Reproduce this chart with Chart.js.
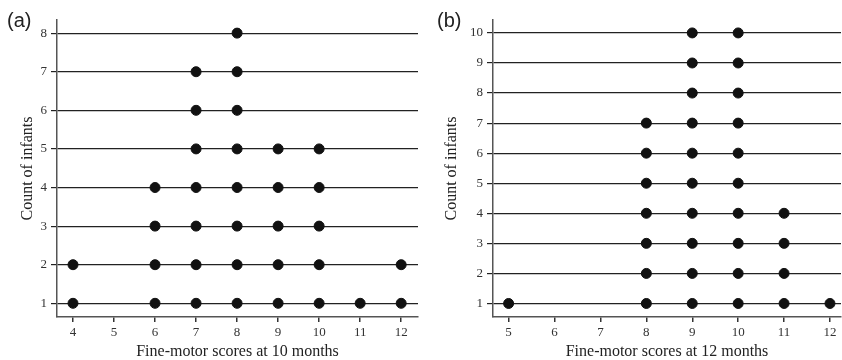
<!DOCTYPE html>
<html>
<head>
<meta charset="utf-8">
<script src="https://cdn.jsdelivr.net/npm/chart.js@4/dist/chart.umd.min.js"></script>
<style>
  body { margin: 0; background: #fff; }
  #wrap { position: relative; width: 842px; height: 360px; }
  .panel { position: absolute; top: 0; width: 421px; height: 360px; }
  .tag { position: absolute; font-family: "Liberation Sans", Arial, sans-serif; font-size: 20px; color: #222; }
</style>
</head>
<body>
<div id="wrap">
  <div class="panel" style="left:0"><canvas id="chartA" width="421" height="360"></canvas></div>
  <div class="panel" style="left:421px"><canvas id="chartB" width="421" height="360"></canvas></div>
  <div class="tag" style="left:7px;top:9px">(a)</div>
  <div class="tag" style="left:437px;top:9px">(b)</div>
</div>
<script>
// datos del panel (a): puntajes a los 10 meses
var scoresA = [4, 5, 6, 7, 8, 9, 10, 11, 12];
var countsA = [2, 0, 4, 7, 8, 5, 5, 1, 2];
var xTicksA = [4, 5, 6, 7, 8, 9, 10, 11, 12];
var yTicksA = [1, 2, 3, 4, 5, 6, 7, 8];

// datos del panel (b): puntajes a los 12 meses
var scoresB = [5, 6, 7, 8, 9, 10, 11, 12];
var countsB = [1, 0, 0, 7, 10, 10, 4, 1];
var xTicksB = [5, 6, 7, 8, 9, 10, 11, 12];
var yTicksB = [1, 2, 3, 4, 5, 6, 7, 8, 9, 10];

var serif = '"Liberation Serif", "Times New Roman", serif';

// un punto por cada infante, apilado segun el conteo
function buildDots(scores, counts) {
    var pts = [];
    scores.forEach(function (s, i) {
        for (var k = 1; k <= counts[i]; k++) {
            pts.push({ x: s, y: k });
        }
    });
    return pts;
}

function makeChart(id, scores, counts, xTicks, yTicks, cfg) {
    var ctx = document.getElementById(id).getContext('2d');
    return new Chart(ctx, {
        type: 'scatter',
        data: {
            datasets: [{
                data: buildDots(scores, counts),
                backgroundColor: '#111',
                borderColor: '#111',
                pointRadius: 5,
                pointHoverRadius: 5
            }]
        },
        options: {
            responsive: false,
            animation: false,
            layout: { autoPadding: false, padding: { top: 20, right: cfg.padRight, left: 0, bottom: 0 } },
            plugins: { legend: { display: false }, tooltip: { enabled: false } },
            scales: {
                x: {
                    type: 'linear',
                    min: cfg.xMin,
                    max: cfg.xMax,
                    afterBuildTicks: function (scale) {
                        scale.ticks = xTicks.map(function (v) { return { value: v }; });
                    },
                    afterFit: function (scale) {
                        scale.height = 43;
                        scale.paddingLeft = 0;
                        scale.paddingRight = 0;
                    },
                    grid: { drawOnChartArea: false, drawTicks: true, tickLength: 5, color: '#333', lineWidth: 1.5 },
                    border: { display: true, color: '#555', width: 1.5 },
                    ticks: { autoSkip: false, maxRotation: 0, padding: 3, color: '#333', font: { family: serif, size: 13 } },
                    title: {
                        display: true,
                        text: cfg.xTitle,
                        color: '#222',
                        font: { family: serif, size: 16, lineHeight: 1 },
                        padding: { top: 0, bottom: 0 }
                    }
                },
                y: {
                    type: 'linear',
                    min: cfg.yMin,
                    max: cfg.yMax,
                    afterBuildTicks: function (scale) {
                        scale.ticks = yTicks.map(function (v) { return { value: v }; });
                    },
                    afterFit: function (scale) {
                        scale.width = cfg.yWidth;
                        scale.paddingTop = 0;
                        scale.paddingBottom = 0;
                    },
                    grid: { drawOnChartArea: true, drawTicks: true, tickLength: 6, color: '#222', lineWidth: 1.2 },
                    border: { display: true, color: '#555', width: 1.5 },
                    ticks: { autoSkip: false, padding: 4, color: '#333', font: { family: serif, size: 13 } },
                    title: {
                        display: true,
                        text: 'Count of infants',
                        color: '#222',
                        font: { family: serif, size: 16, lineHeight: 1 },
                        padding: { top: cfg.yTitlePad, bottom: 0 }
                    }
                }
            }
        }
    });
}

makeChart('chartA', scoresA, countsA, xTicksA, yTicksA, {
    xMin: 3.61, xMax: 12.41, yMin: 0.645, yMax: 8.34,
    yWidth: 57, padRight: 3, yTitlePad: 20,
    xTitle: 'Fine-motor scores at 10 months'
});

makeChart('chartB', scoresB, countsB, xTicksB, yTicksB, {
    xMin: 4.66, xMax: 12.24, yMin: 0.55, yMax: 10.43,
    yWidth: 72, padRight: 1, yTitlePad: 23,
    xTitle: 'Fine-motor scores at 12 months'
});
</script>
</body>
</html>
